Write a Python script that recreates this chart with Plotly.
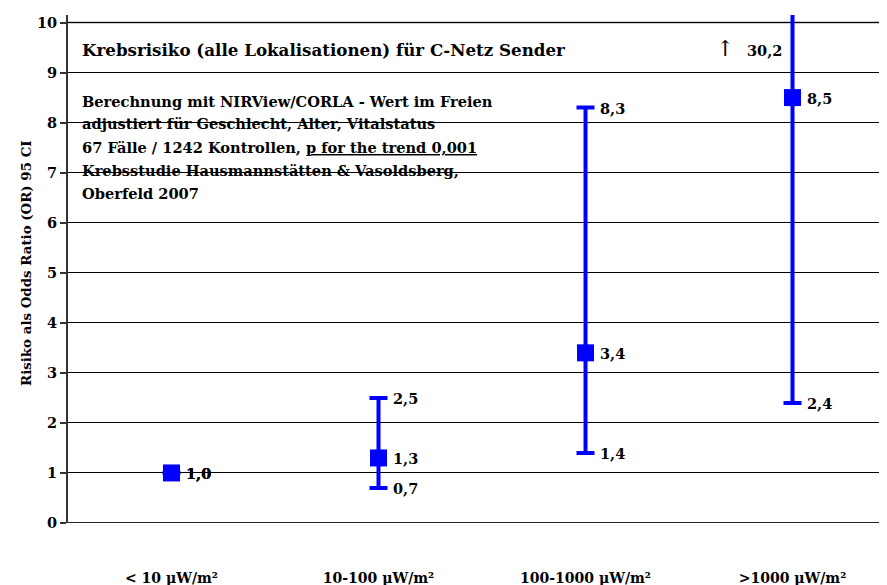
import plotly.graph_objects as go

categories = ["< 10 µW/m²", "10-100 µW/m²", "100-1000 µW/m²", ">1000 µW/m²"]
odds_ratio = [1.0, 1.3, 3.4, 8.5]
ci_lower = [1.0, 0.7, 1.4, 2.4]
ci_upper = [1.0, 2.5, 8.3, 30.2]
y_ticks = list(range(0, 11))

title_line = "Krebsrisiko (alle Lokalisationen) für C-Netz Sender"
info_lines = [
    "Berechnung mit NIRView/CORLA - Wert im Freien",
    "adjustiert für Geschlecht, Alter, Vitalstatus",
    "67 Fälle / 1242 Kontrollen, <u>p for the trend 0,001</u>",
    "Krebsstudie Hausmannstätten & Vasoldsberg,",
    "Oberfeld 2007",
]

# the page body adds an 8px offset; work in screenshot pixels
OFF = 8
W, H = 887 - OFF, 585 - OFF
PLOT_L, PLOT_T, PLOT_B = 68, 15, 523   # screenshot pixels
L = PLOT_L - OFF
T = PLOT_T - OFF
PW = 887 - PLOT_L
PH = PLOT_B - PLOT_T
B = H - T - PH
R = W - L - PW
YMAX = 10.15


def px_x(px):
    return (px - PLOT_L) / PW


def px_y(py):
    return (PLOT_B - py) / PH


FONT = "DejaVu Serif"
BLUE = "#0000FF"


def fmt(v):
    return f"{v:.1f}".replace(".", ",")


xs = list(range(len(categories)))
fig = go.Figure()
fig.add_trace(go.Scatter(
    x=xs, y=odds_ratio, mode="markers",
    marker=dict(symbol="square", size=17, color=BLUE),
    error_y=dict(type="data", symmetric=False,
                 array=[u - o for u, o in zip(ci_upper, odds_ratio)],
                 arrayminus=[o - l for o, l in zip(odds_ratio, ci_lower)],
                 color=BLUE, thickness=4, width=9),
    showlegend=False, hoverinfo="skip",
))

annotations = []
LABEL_SIZE = 14.5
for i in xs:
    vals = [ci_lower[i], odds_ratio[i]]
    if ci_upper[i] <= YMAX:
        vals.append(ci_upper[i])
    for v in vals:
        annotations.append(dict(x=i, y=v, xref="x", yref="y", text=f"<b>{fmt(v)}</b>",
                                showarrow=False, xanchor="left", yanchor="middle", xshift=12,
                                yshift=-1,
                                font=dict(family=FONT, size=LABEL_SIZE, color="black")))
    if ci_upper[i] > YMAX:
        annotations.append(dict(x=i, y=9.45, xref="x", yref="y", text=f"<b>{fmt(ci_upper[i])}</b>",
                                showarrow=False, xanchor="right", yanchor="middle", xshift=-9,
                                font=dict(family=FONT, size=LABEL_SIZE, color="black")))
        annotations.append(dict(x=px_x(725), y=px_y(49), xref="paper", yref="paper", text="↑",
                                showarrow=False, xanchor="center", yanchor="middle",
                                font=dict(family=FONT, size=22, color="black")))

annotations.append(dict(x=px_x(80), y=px_y(50), xref="paper", yref="paper",
                        text=f"<b>{title_line}</b>", showarrow=False, xanchor="left",
                        yanchor="middle", font=dict(family=FONT, size=16.7, color="black")))
for k, line in enumerate(info_lines):
    annotations.append(dict(x=px_x(80), y=px_y(101 + 23 * k), xref="paper", yref="paper",
                            text=f"<b>{line}</b>", showarrow=False, xanchor="left",
                            yanchor="middle", font=dict(family=FONT, size=14.6, color="black")))

annotations.append(dict(x=px_x(26), y=px_y(263), xref="paper", yref="paper",
                        text="<b>Risiko als Odds Ratio (OR) 95 CI</b>",
                        showarrow=False, textangle=-90, xanchor="center", yanchor="middle",
                        font=dict(family=FONT, size=13.4, color="black")))

shapes = [
    dict(type="rect", xref="paper", yref="paper", x0=px_x(77), x1=px_x(565),
         y0=px_y(212), y1=px_y(30), fillcolor="white", line=dict(width=0), layer="between"),
    dict(type="line", xref="paper", yref="y", x0=0, x1=1, y0=10, y1=10,
         line=dict(color="#999999", width=2), layer="between"),
    dict(type="line", xref="paper", yref="y", x0=0, x1=1, y0=0, y1=0,
         line=dict(color="#222222", width=2), layer="between"),
]

fig.update_layout(
    width=W, height=H,
    margin=dict(l=L, r=R, t=T, b=B, autoexpand=False),
    paper_bgcolor="white", plot_bgcolor="white",
    annotations=annotations, shapes=shapes,
    xaxis=dict(range=[-0.5, -0.5 + PW / 207.0], tickvals=xs,
               ticktext=[f"<b>{c}</b>" for c in categories],
               showgrid=False, zeroline=False, showline=False, ticks="", ticklabelstandoff=45,
               tickfont=dict(family=FONT, size=14, color="black")),
    yaxis=dict(range=[0, YMAX], tickvals=y_ticks, ticktext=[f"<b>{t}</b>" for t in y_ticks],
               showgrid=True, gridcolor="black", gridwidth=1, zeroline=False,
               showline=True, linecolor="#333333", linewidth=2,
               ticks="outside", ticklen=6, tickwidth=1.5, tickcolor="#333333",
               tickfont=dict(family=FONT, size=14.5, color="black")),
)

fig.write_html("out.html")
